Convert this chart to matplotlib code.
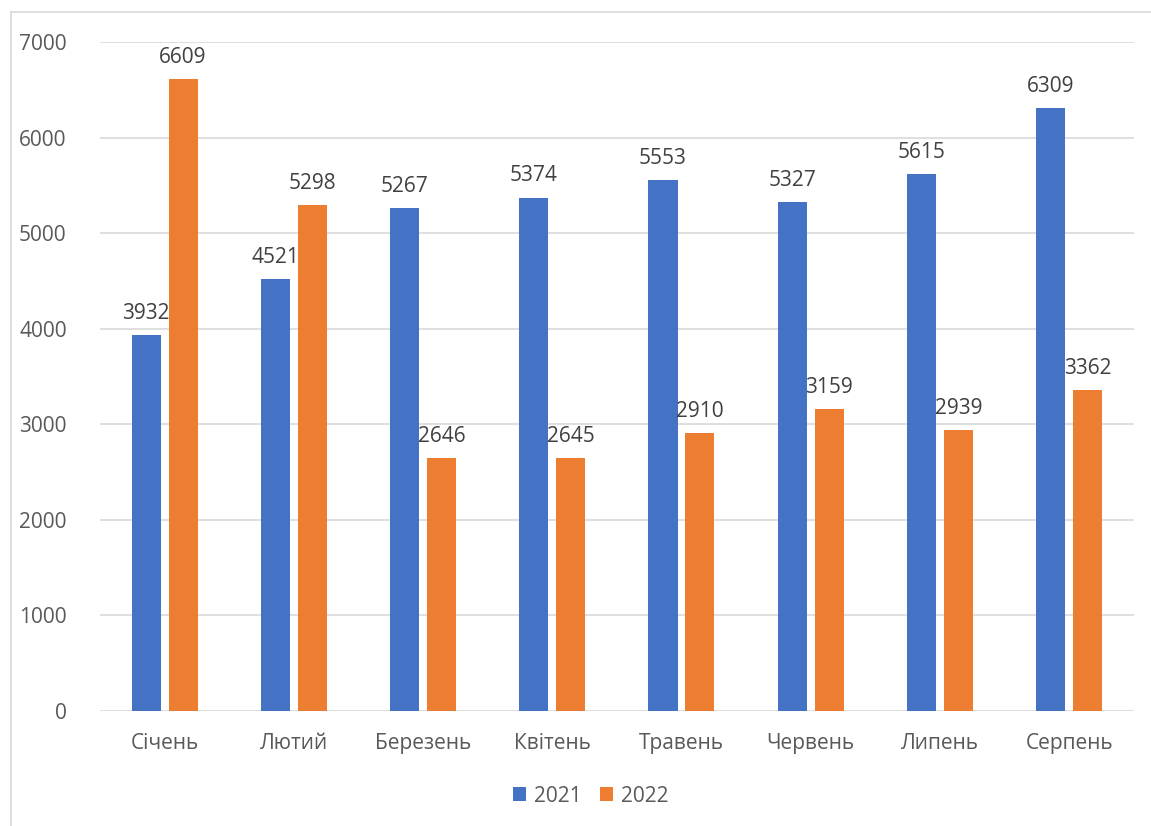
import matplotlib.pyplot as plt
import numpy as np
from matplotlib.lines import Line2D

plt.rcParams['font.family'] = ['Open Sans', 'DejaVu Sans']

months = ['Січень', 'Лютий', 'Березень', 'Квітень', 'Травень', 'Червень', 'Липень', 'Серпень']
vals_2021 = [3932, 4521, 5267, 5374, 5553, 5327, 5615, 6309]
vals_2022 = [6609, 5298, 2646, 2645, 2910, 3159, 2939, 3362]
yticks = [0, 1000, 2000, 3000, 4000, 5000, 6000, 7000]

blue = '#4472C4'
orange = '#ED7D31'
text_c = '#595959'
fs = 15

fig = plt.figure(figsize=(11.51, 8.26), dpi=100)
ax = fig.add_axes([0.0869, 0.1392, 0.8981, 0.8098])

x = np.arange(len(months))
w = 0.225
off = 0.143
b1 = ax.bar(x - off, vals_2021, w, color=blue, label='2021', zorder=3)
b2 = ax.bar(x + off, vals_2022, w, color=orange, label='2022', zorder=3)

for bars, vals in ((b1, vals_2021), (b2, vals_2022)):
    for r, v in zip(bars, vals):
        ax.annotate(str(v), (r.get_x() + r.get_width() / 2, v),
                    xytext=(0, 8), textcoords='offset points',
                    ha='center', va='bottom', fontsize=fs, color='#404040', zorder=4)

ax.set_xlim(-0.5, len(months) - 0.5)
ax.set_ylim(0, 7000)
ax.set_yticks(yticks)
ax.set_yticklabels([str(t) for t in yticks])
ax.set_xticks(x)
ax.set_xticklabels(months)
ax.tick_params(axis='both', length=0, labelsize=fs, labelcolor=text_c)
ax.tick_params(axis='y', pad=24)
ax.tick_params(axis='x', pad=16)
ax.grid(axis='y', color='#D9D9D9', linewidth=1.2, zorder=0)
for s in ax.spines.values():
    s.set_visible(False)

# legend centred on the whole chart area, below the category labels
fig.legend(handles=[b1, b2], loc='center', bbox_to_anchor=(0.513, 0.036), ncol=2,
           frameon=False, fontsize=fs, labelcolor=text_c, handlelength=0.65,
           handleheight=0.65, handletextpad=0.35, columnspacing=0.9)

# chart frame (only top and left edges fall inside the image)
fig.add_artist(Line2D([0.0096, 1.0], [0.9855, 0.9855], color='#D9D9D9', linewidth=1.2))
fig.add_artist(Line2D([0.0096, 0.0096], [0.0, 0.9855], color='#D9D9D9', linewidth=1.2))

fig.savefig('out.png', dpi=100)
